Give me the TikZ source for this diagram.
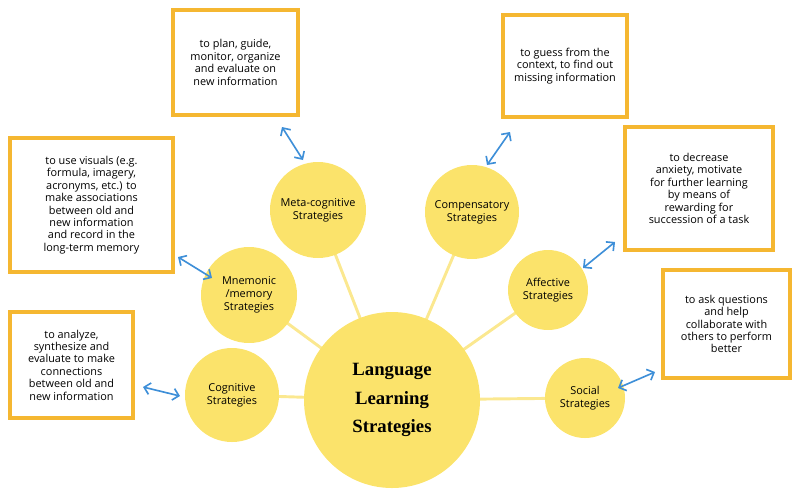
\documentclass[tikz,border=0pt]{standalone}
\usepackage{fontspec}
\setmainfont{Open Sans}
\newfontfamily\titlefont{Liberation Serif}
\usetikzlibrary{arrows.meta}
\definecolor{sunyellow}{HTML}{FBE36B}
\definecolor{paleline}{HTML}{FBE890}
\definecolor{boxorange}{HTML}{F5B731}
\definecolor{arrowblue}{HTML}{3E8FD8}
\tikzset{
  bubble/.style={circle,fill=sunyellow,align=center,font=\fontsize{9.3}{11}\selectfont,inner sep=0pt},
  notebox/.style={draw=boxorange,line width=3.5pt,fill=white,align=center,font=\fontsize{9.3}{10.6}\selectfont},
  spoke/.style={draw=paleline,line width=2.5pt},
  linkarrow/.style={arrowblue,line width=1.4pt,{Straight Barb[length=5pt]}-{Straight Barb[length=5pt]}}
}
\begin{document}
\begin{tikzpicture}[x=0.03cm,y=-0.03cm]
  \useasboundingbox (0,0) rectangle (797,492);
  % circles
  \coordinate (hub) at (392,400);
  \coordinate (cog) at (232,395);
  \coordinate (mne) at (249,295);
  \coordinate (meta) at (318,210);
  \coordinate (comp) at (472,212);
  \coordinate (aff) at (548,290);
  \coordinate (soc) at (585,398);
  \foreach \c in {cog,mne,meta,comp,aff,soc}
    \draw[spoke] (hub) -- (\c);
  \node[bubble,minimum size=176*0.03cm,font=\titlefont\bfseries\fontsize{16}{24}\selectfont] (main) at (hub)
    {Language\\ Learning\\ Strategies};
  \node[bubble,minimum size=94*0.03cm] (cogn) at (cog) {Cognitive\\Strategies};
  \node[bubble,minimum size=96*0.03cm] (mnem) at (mne) {Mnemonic\\/memory\\Strategies};
  \node[bubble,minimum size=96*0.03cm] (metac) at (meta) {Meta-cognitive\\Strategies};
  \node[bubble,minimum size=94*0.03cm] (compe) at (comp) {Compensatory\\Strategies};
  \node[bubble,minimum size=80*0.03cm] (affe) at (aff) {Affective\\Strategies};
  \node[bubble,minimum size=80*0.03cm] (soci) at (soc) {Social\\Strategies};
  % boxes
  \node[notebox,minimum width=125*0.03cm,minimum height=105*0.03cm] (metabox) at (235.5,62.5)
    {to plan, guide,\\monitor, organize\\and evaluate on\\new information};
  \node[notebox,minimum width=124*0.03cm,minimum height=102*0.03cm] (compbox) at (565,66)
    {to guess from the\\context, to find out\\missing information};
  \node[notebox,minimum width=163*0.03cm,minimum height=134*0.03cm] (mnebox) at (91.5,205)
    {to use visuals (e.g.\\formula, imagery,\\acronyms, etc.) to\\make associations\\between old and\\new information\\and record in the\\long-term memory};
  \node[notebox,minimum width=148*0.03cm,minimum height=123*0.03cm] (affbox) at (699,188.5)
    {to decrease\\anxiety, motivate\\for further learning\\by means of\\rewarding for\\succession of a task};
  \node[notebox,minimum width=127*0.03cm,minimum height=108*0.03cm] (socbox) at (726.5,324)
    {to ask questions\\and help\\collaborate with\\others to perform\\better};
  \node[notebox,minimum width=123*0.03cm,minimum height=106*0.03cm] (cogbox) at (71.5,365)
    {to analyze,\\synthesize and\\evaluate to make\\connections\\between old and\\new information};
  % arrows
  \coordinate (a1) at (282,127); \coordinate (b1) at (303,160);
  \coordinate (a2) at (510,132); \coordinate (b2) at (487,165);
  \coordinate (a3) at (178,257); \coordinate (b3) at (212,278);
  \coordinate (a4) at (615,242); \coordinate (b4) at (583,268);
  \coordinate (a5) at (655,372); \coordinate (b5) at (618,388);
  \coordinate (a6) at (143,387); \coordinate (b6) at (180,396);
  \foreach \i in {1,...,6}
    \draw[linkarrow] (a\i) -- (b\i);
\end{tikzpicture}
\end{document}
